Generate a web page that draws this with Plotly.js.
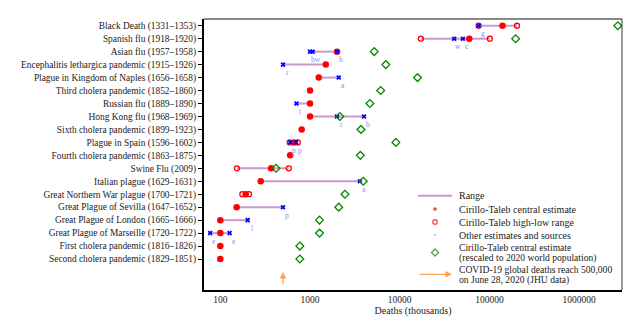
<!DOCTYPE html>
<html>
<head>
<meta charset="utf-8">
<script src="https://cdn.plot.ly/plotly-3.0.1.min.js"></script>
<style>html,body{margin:0;padding:0;background:#fff;}#chart{width:640px;height:324px;}</style>
</head>
<body>
<div id="chart"></div>
<script>
// ---- Data (deaths in thousands) ----
const pandemics = [
  "Black Death (1331–1353)",
  "Spanish flu (1918–1920)",
  "Asian flu (1957–1958)",
  "Encephalitis lethargica pandemic (1915–1926)",
  "Plague in Kingdom of Naples (1656–1658)",
  "Third cholera pandemic (1852–1860)",
  "Russian flu (1889–1890)",
  "Hong Kong flu (1968–1969)",
  "Sixth cholera pandemic (1899–1923)",
  "Plague in Spain (1596–1602)",
  "Fourth cholera pandemic (1863–1875)",
  "Swine Flu (2009)",
  "Italian plague (1629–1631)",
  "Great Northern War plague (1700–1721)",
  "Great Plague of Sevilla (1647–1652)",
  "Great Plague of London (1665–1666)",
  "Great Plague of Marseille (1720–1722)",
  "First cholera pandemic (1816–1826)",
  "Second cholera pandemic (1829–1851)"
];
const centralEstimate = [140000, 59600, 2000, 1500, 1250, 1000, 1000, 1000, 807, 661, 600, 368, 282, 192, 152, 100, 100, 100, 100];
const rescaledEstimate = [2700000, 196000, 5200, 7000, 15800, 6130, 4650, 2150, 3700, 9060, 3640, 418, 3920, 2450, 2090, 1276, 1276, 770, 770];
const rangeLow  = [75700, 17200, 1000, 500, 1250, null, 706, 1000, null, 593, null, 153, 282, 176, 152, 100, 77, null, null];
const rangeHigh = [203000, 101000, 2000, 1500, 2090, null, 1000, 4000, null, 731, null, 580, 3600, 209, 500, 202, 127, null, null];
const highLowRow   = [0, 0, 1, 1, 9, 9, 11, 11, 13, 13];
const highLowValue = [75700, 203000, 17200, 101000, 593, 731, 153, 580, 176, 209];
const otherRow    = [0, 1, 1, 2, 2, 2, 3, 4, 6, 7, 7, 9, 9, 12, 14, 15, 16, 16];
const otherValue  = [75700, 40500, 50600, 1000, 1070, 2000, 500, 2090, 706, 2000, 4000, 600, 700, 3600, 500, 202, 77, 127];
const otherSource = ["g", "w", "c", "bw", "", "b", "r", "a", "t", "t", "b", "p", "p", "a", "p", "l", "e", "e"];
const covidDeaths = 500;
const xTickVals = [100, 1000, 10000, 100000, 1000000];
const xTickText = ["100", "1000", "10000", "100000", "1000000"];

// ---- Build traces ----
const rows = pandemics.map((_, i) => i);
const rx = [], ry = [];
rangeLow.forEach((lo, i) => {
  if (lo !== null) { rx.push(lo, rangeHigh[i], null); ry.push(i, i, null); }
});
const FONT = "Liberation Serif, Times New Roman, serif";
const traces = [
  {x: rx, y: ry, mode: "lines", line: {color: "#cc99cc", width: 2}, hoverinfo: "skip", showlegend: false},
  {x: centralEstimate, y: rows, mode: "markers", marker: {symbol: "circle", size: 6.5, color: "#ff0000"}, showlegend: false},
  {x: highLowValue, y: highLowRow, mode: "markers", marker: {symbol: "circle-open", size: 5, color: "#ff0000", line: {width: 1.3}}, showlegend: false},
  {x: otherValue, y: otherRow, mode: "markers", marker: {symbol: "x", size: 4.5, color: "#0000ff", line: {width: 0}}, showlegend: false},
  {x: rescaledEstimate, y: rows, mode: "markers", marker: {symbol: "diamond-open", size: 6, color: "#008800", line: {width: 1.3}}, showlegend: false},
  // legend sample markers on an overlay pixel-like axis
  {x: [435, 435, 435, 435], y: [209, 222, 235, 252.5], xaxis: "x2", yaxis: "y2", mode: "markers",
   marker: {symbol: ["circle", "circle-open", "square", "diamond-open"], size: [5, 4.5, 2.5, 5.5],
            color: ["#ff0000", "#ff0000", "#0000ff", "#008800"], line: {width: 1.3}},
   hoverinfo: "skip", showlegend: false}
];

const annotations = otherSource.map((s, k) => ({
  x: Math.log10(otherValue[k]), y: otherRow[k], xref: "x", yref: "y", text: s, showarrow: false,
  xshift: s === "bw" ? 6 : 4, yshift: -8, font: {family: FONT, size: 7.5, color: "#8f86ff"}
})).filter(a => a.text !== "");

// COVID arrow in plot
annotations.push({x: Math.log10(covidDeaths), y: 19, xref: "x", yref: "y", ax: 0, ay: 14, axref: "pixel", ayref: "pixel",
  showarrow: true, arrowhead: 2, arrowsize: 1, arrowwidth: 1.3, arrowcolor: "#ffa050", text: ""});

// Legend texts (one annotation per line)
const legendLines = [
  ["Range", 195.7, 10], ["Cirillo-Taleb central estimate", 209, 10], ["Cirillo-Taleb high-low range", 222, 10],
  ["Other estimates and sources", 235, 10], ["Cirillo-Taleb central estimate", 247.3, 9.6],
  ["(rescaled to 2020 world population)", 258.3, 9.6],
  ["COVID-19 global deaths reach 500,000", 269, 9.6], ["on June 28, 2020 (JHU data)", 280, 9.6]
];
legendLines.forEach(([t, yy, fs]) => annotations.push({x: 458, y: yy, xref: "x2", yref: "y2", text: t, showarrow: false,
  xanchor: "left", yanchor: "middle", align: "left", borderpad: 0, font: {family: FONT, size: fs, color: "#222"}}));
// legend COVID arrow
annotations.push({x: 452, y: 274.3, xref: "x2", yref: "y2", ax: 418, ay: 274.3, axref: "x2", ayref: "y2",
  showarrow: true, arrowhead: 2, arrowsize: 1, arrowwidth: 1.3, arrowcolor: "#ffa050", text: ""});

const layout = {
  width: 640, height: 324,
  margin: {l: 204, r: 18, t: 19, b: 34},
  paper_bgcolor: "#fff", plot_bgcolor: "#fff",
  showlegend: false,
  font: {family: FONT, size: 10, color: "#222"},
  xaxis: {type: "log", range: [1.818, 6.478], tickvals: xTickVals, ticktext: xTickText, ticks: "",
          showgrid: false, zeroline: false, showline: true, linecolor: "#000", linewidth: 2,
          tickfont: {family: FONT, size: 9.5, color: "#222"},
          title: {text: "Deaths (thousands)", font: {family: FONT, size: 10, color: "#222"}, standoff: 2}},
  yaxis: {range: [20.39, -0.52], tickvals: rows, ticktext: pandemics, ticks: "outside", ticklen: 4, tickcolor: "#000",
          showgrid: false, zeroline: false, showline: true, linecolor: "#000", linewidth: 2,
          tickfont: {family: FONT, size: 9.4, color: "#222"}},
  xaxis2: {overlaying: "x", range: [204, 622], visible: false, showgrid: false, zeroline: false},
  yaxis2: {overlaying: "y", range: [290, 19], visible: false, showgrid: false, zeroline: false},
  shapes: [
    {type: "line", xref: "paper", yref: "paper", x0: 0, x1: 1, y0: 1, y1: 1, line: {color: "#888", width: 2}},
    {type: "line", xref: "paper", yref: "paper", x0: 1, x1: 1, y0: 0, y1: 1, line: {color: "#333", width: 1}},
    {type: "line", xref: "x2", yref: "y2", x0: 418, x1: 452, y0: 195.7, y1: 195.7, line: {color: "#cc99cc", width: 2}}
  ],
  annotations: annotations
};
Plotly.newPlot("chart", traces, layout, {displayModeBar: false, staticPlot: true});
</script>
</body>
</html>
